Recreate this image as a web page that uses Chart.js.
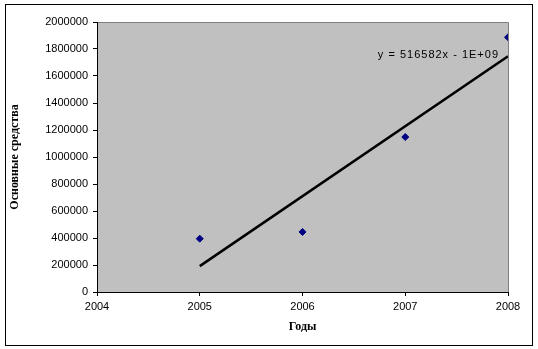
<!DOCTYPE html>
<html>
<head>
<meta charset="utf-8">
<script src="https://cdn.jsdelivr.net/npm/chart.js@4.4.1/dist/chart.umd.min.js"></script>
<style>
  html, body { margin: 0; padding: 0; background: #fff; }
  canvas { display: block; }
</style>
</head>
<body>
<canvas id="chart" width="538" height="349"></canvas>
<script>
// values
const years = [2005, 2006, 2007, 2008];
const fixedAssets = [395000, 445000, 1148000, 1887000];
const yTicks = [0, 200000, 400000, 600000, 800000, 1000000, 1200000, 1400000, 1600000, 1800000, 2000000];
const xTicks = [2004, 2005, 2006, 2007, 2008];
const trendLabel = "y = 516582x - 1E+09";
const yTitle = "Основные средства";
const xTitle = "Годы";

// least squares trend line over the points
function linearFit(xs, ys) {
  const n = xs.length;
  const mx = xs.reduce((a, b) => a + b, 0) / n;
  const my = ys.reduce((a, b) => a + b, 0) / n;
  let num = 0, den = 0;
  xs.forEach((x, i) => {
    num += (x - mx) * (ys[i] - my);
    den += (x - mx) * (x - mx);
  });
  const slope = num / den;
  return { slope, intercept: my - slope * mx };
}
const fit = linearFit(years, fixedAssets);
const trendX = [years[0], years[years.length - 1]];

const pointData = years.map((x, i) => ({ x, y: fixedAssets[i] }));
const trendData = trendX.map((x) => ({ x, y: fit.slope * x + fit.intercept }));

const tickFont = { family: "'Liberation Sans', Arial, sans-serif", size: 11 };
const titleFont = { family: "'Liberation Serif', 'Times New Roman', serif", size: 12, weight: "bold" };

const framePlugin = {
  id: "frame",
  beforeDraw(chart) {
    const { ctx, chartArea: a } = chart;
    ctx.save();
    ctx.fillStyle = "#ffffff";
    ctx.fillRect(0, 0, chart.width, chart.height);
    ctx.strokeStyle = "#000000";
    ctx.lineWidth = 1;
    ctx.strokeRect(5.5, 4.5, 527, 341);
    ctx.fillStyle = "#c0c0c0";
    ctx.fillRect(a.left, a.top, a.right - a.left, a.bottom - a.top);
    ctx.strokeStyle = "#808080";
    ctx.beginPath();
    ctx.moveTo(a.left, a.top + 0.5);
    ctx.lineTo(a.right + 0.5, a.top + 0.5);
    ctx.lineTo(a.right + 0.5, a.bottom);
    ctx.stroke();
    ctx.restore();
  },
  afterDatasetsDraw(chart) {
    const { ctx, scales } = chart;
    const last = trendData[trendData.length - 1];
    const px = scales.x.getPixelForValue(last.x);
    const py = scales.y.getPixelForValue(last.y);
    ctx.save();
    ctx.font = "11px 'Liberation Sans', Arial, sans-serif";
    ctx.letterSpacing = "1px";
    ctx.fillStyle = "#000000";
    ctx.textAlign = "right";
    ctx.textBaseline = "middle";
    ctx.fillText(trendLabel, px - 9, py - 1);
    ctx.restore();
  },
};

new Chart(document.getElementById("chart"), {
  type: "scatter",
  data: {
    datasets: [
      {
        label: "Основные средства",
        data: pointData,
        pointStyle: "rectRot",
        pointRadius: 3.5,
        backgroundColor: "#000080",
        borderColor: "#000080",
        borderWidth: 1,
      },
      {
        label: "Линейный тренд",
        data: trendData,
        showLine: true,
        borderColor: "#000000",
        borderWidth: 2.5,
        pointRadius: 0,
        fill: false,
      },
    ],
  },
  options: {
    responsive: false,
    animation: false,
    layout: { padding: { left: 0, top: 22, right: 30, bottom: 0 } },
    plugins: { legend: { display: false }, tooltip: { enabled: false } },
    scales: {
      x: {
        type: "linear",
        min: xTicks[0],
        max: xTicks[xTicks.length - 1],
        afterBuildTicks: (s) => { s.ticks = xTicks.map((v) => ({ value: v })); },
        afterFit: (s) => { s.height = 57; },
        ticks: { font: tickFont, color: "#000", padding: 4, maxRotation: 0, callback: (v) => String(v) },
        grid: { drawOnChartArea: false, tickLength: 4, color: "#000", tickColor: "#000" },
        border: { color: "#000", width: 1 },
        title: { display: true, text: xTitle, font: titleFont, color: "#000", padding: { top: 0, bottom: 15 } },
      },
      y: {
        min: yTicks[0],
        max: yTicks[yTicks.length - 1],
        afterBuildTicks: (s) => { s.ticks = yTicks.map((v) => ({ value: v })); },
        afterFit: (s) => { s.width = 97; },
        ticks: { font: tickFont, color: "#000", padding: 5, callback: (v) => String(v) },
        grid: { drawOnChartArea: false, tickLength: 4, color: "#000", tickColor: "#000" },
        border: { color: "#000", width: 1 },
        title: { display: true, text: yTitle, font: titleFont, color: "#000", padding: { top: 8, bottom: 0 } },
      },
    },
  },
  plugins: [framePlugin],
});
</script>
</body>
</html>
